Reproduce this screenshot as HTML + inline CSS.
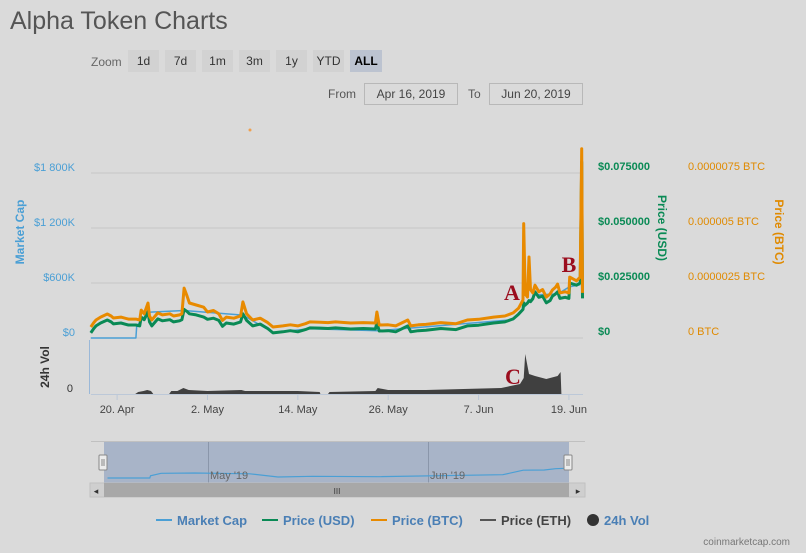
<!DOCTYPE html>
<html><head><meta charset="utf-8">
<style>
body{margin:0;background:#dadada;font-family:"Liberation Sans",sans-serif;}
#wrap{position:relative;width:806px;height:553px;overflow:hidden;background:#dadada;}
svg{position:absolute;left:0;top:0;}
</style></head><body>
<div id="wrap">
<svg id="svg" width="806" height="553" xmlns="http://www.w3.org/2000/svg">
<text x="10" y="29" font-size="25" fill="#555">Alpha Token Charts</text>
<text x="91" y="66" font-size="12" fill="#666">Zoom</text>
<g><rect x="128" y="50" width="31" height="22" fill="#d2d2d2"/><text x="143.5" y="65" font-size="12" fill="#333" text-anchor="middle">1d</text></g>
<g><rect x="165" y="50" width="31" height="22" fill="#d2d2d2"/><text x="180.5" y="65" font-size="12" fill="#333" text-anchor="middle">7d</text></g>
<g><rect x="202" y="50" width="31" height="22" fill="#d2d2d2"/><text x="217.5" y="65" font-size="12" fill="#333" text-anchor="middle">1m</text></g>
<g><rect x="239" y="50" width="31" height="22" fill="#d2d2d2"/><text x="254.5" y="65" font-size="12" fill="#333" text-anchor="middle">3m</text></g>
<g><rect x="276" y="50" width="31" height="22" fill="#d2d2d2"/><text x="291.5" y="65" font-size="12" fill="#333" text-anchor="middle">1y</text></g>
<g><rect x="313" y="50" width="31" height="22" fill="#d2d2d2"/><text x="328.5" y="65" font-size="12" fill="#333" text-anchor="middle">YTD</text></g>
<g><rect x="350" y="50" width="32" height="22" fill="#bcc3d0"/><text x="366" y="65" font-size="12" fill="#000" font-weight="bold" text-anchor="middle">ALL</text></g>
<text x="328" y="98" font-size="12" fill="#555">From</text>
<g><rect x="364.5" y="83.5" width="93" height="21" fill="#dadada" stroke="#b8b8b8"/><text x="411" y="98" font-size="12" fill="#444" text-anchor="middle">Apr 16, 2019</text></g>
<text x="468" y="98" font-size="12" fill="#555">To</text>
<g><rect x="489.5" y="83.5" width="93" height="21" fill="#dadada" stroke="#b8b8b8"/><text x="536" y="98" font-size="12" fill="#444" text-anchor="middle">Jun 20, 2019</text></g>
<g id="plot"></g>
</svg>
</div>
<script>
// ---- data (days since Apr 16, 2019) ----
const priceTimes = [0.5,0.9,1.2,1.8,2.7,3.2,3.5,4.5,5.5,6.5,7,7.2,7.6,8.1,8.3,8.6,9.4,10,11,11.5,12.3,12.6,12.9,13.3,13.6,14.5,15.5,16,16.8,17.5,18,18.5,19.5,20.4,20.7,21.2,22,23,24,24.7,26,27,28,29,29.6,31,32,33,35,36.7,38.3,38.5,38.8,40,41,42.6,43,44,45,47,49,50.5,52,54,55.5,56.6,57.3,57.9,58,58.2,58.5,58.7,58.9,59.2,59.5,60,60.5,61,61.5,61.8,62.2,62.5,62.8,63.5,64,64.1,65,65.5,65.7,65.8];
const priceBTC = [0.5,0.7,0.82,0.95,1.09,1.0,0.91,0.95,0.86,0.86,0.82,1.27,1.1,1.59,1.0,0.82,1.14,1.05,1.1,1.0,1.05,1.1,2.27,1.9,1.59,1.5,1.4,1.18,1.25,1.1,0.8,0.95,0.9,1.0,1.64,1.1,0.82,0.9,0.7,0.5,0.55,0.6,0.55,0.65,0.73,0.72,0.7,0.73,0.68,0.7,0.68,1.18,0.59,0.6,0.55,0.82,0.55,0.6,0.62,0.7,0.65,0.82,0.85,0.95,1.0,1.14,1.35,1.73,5.2,2.0,1.86,3.68,2.2,2.05,2.4,2.1,2.2,1.86,2.0,2.18,2.3,2.45,2.05,2.1,2.05,2.77,2.6,2.77,8.6,2.05]; // x 1e-6 BTC
const priceUSD = [2.3,4.3,5.5,6.8,8.2,7.3,6.4,6.8,5.9,5.9,5.5,9.5,8.3,12,7.3,5.5,8.7,7.8,8.3,7.3,7.8,8.3,13,12,11,10.5,9.5,8.5,9,8,5.3,6.8,6.3,7.3,11,8,5.5,6.3,4.3,2.3,2.8,3.3,2.8,3.8,4.6,4.5,4.3,4.6,4.1,4.3,4.1,7,3.2,3.3,2.8,5.5,2.8,3.3,3.5,4.3,3.8,5.5,5.8,6.8,7.3,8.7,10.8,13,16,15,15.9,17,16.5,17.8,21,18.5,19,16,17,19,20,21,18,18.5,18,25,24,25,80,18]; // x 1e-3 USD
const mcapTimes = [0.5,6.5,6.6,8.1,12.9,20.7,24.7,29.6,38.8,56.6,59.5,62.5,64.1,65.5];
const mcapK = [0,0,130,280,300,250,60,100,80,200,470,480,560,580];
const volTimes = [6.4,6.8,7.5,8,8.5,8.8,10.9,11.2,12,12.8,13.5,16,20.5,21,28,30.9,31,32,32.2,38.3,38.6,40,45,50,55,57.5,58,58.2,58.7,59.5,61,62.5,62.9,63];
const volVal = [0,2,3,4,3,0,0,3,3,6,4,3,4,3,3,2,0,0,2,3,6,4,4,5,6,10,16,40,20,18,15,18,22,0];
const xTickDays = [4,16,28,40,52,64];
const xTickLabels = ["20. Apr","2. May","14. May","26. May","7. Jun","19. Jun"];
const mcapTicks = [0,600,1200,1800];
const mcapTickLabels = ["$0","$600K","$1 200K","$1 800K"];
const usdTicks = [0,25,50,75];
const usdTickLabels = ["$0","$0.025000","$0.050000","$0.075000"];
const btcTicks = [0,2.5,5,7.5];
const btcTickLabels = ["0 BTC","0.0000025 BTC","0.000005 BTC","0.0000075 BTC"];

// ---- axes ----
const X0=87, DAY=7.53, Y0=338, PH=165;
const xS=d=>X0+d*DAY;
const yMcap=v=>Y0-v/1800*PH;
const yUSD=v=>Y0-v/75*PH;
const yBTC=v=>Y0-v/7.5*PH;
const yVol=v=>394-v*1.0;

const NS="http://www.w3.org/2000/svg";
const plot=document.getElementById('plot');
function mk(tag,attrs,parent){const e=document.createElementNS(NS,tag);for(const k in attrs)e.setAttribute(k,attrs[k]);(parent||plot).appendChild(e);return e;}
function txt(x,y,s,attrs){const e=mk('text',Object.assign({x:x,y:y,'font-size':11},attrs));e.textContent=s;return e;}

mcapTicks.forEach((v,i)=>{
  const g=mk('line',{x1:91,x2:583,y1:yMcap(v),y2:yMcap(v),stroke:'#c6c6c6','stroke-width':1});
  
  
  const t=txt(75,yMcap(v)-2,mcapTickLabels[i],{fill:'#4a9fd5','text-anchor':'end'});
  
  
});
usdTicks.forEach((v,i)=>{
  const t=txt(598,yUSD(v)-3,usdTickLabels[i],{fill:'#0a8a55','font-weight':'bold'});
  
  
});
btcTicks.forEach((v,i)=>{
  const t=txt(688,yBTC(v)-3,btcTickLabels[i],{fill:'#e08a00'});
  
  
});
let t;
t=txt(24,232,'Market Cap',{fill:'#4a9fd5','font-weight':'bold','font-size':12,'text-anchor':'middle',transform:'rotate(-90 24 232)'});

t=txt(658,228,'Price (USD)',{fill:'#0a8a55','font-weight':'bold','font-size':12,'text-anchor':'middle',transform:'rotate(90 658 228)'});

t=txt(775,232,'Price (BTC)',{fill:'#e08a00','font-weight':'bold','font-size':12,'text-anchor':'middle',transform:'rotate(90 775 232)'});

t=txt(49,367,'24h Vol',{fill:'#333','font-weight':'bold','font-size':12,'text-anchor':'middle',transform:'rotate(-90 49 367)'});

t=txt(73,392,'0',{fill:'#333','text-anchor':'end'});


mk('line',{x1:89.5,x2:89.5,y1:340,y2:394,stroke:'#9ab8d8'});
mk('line',{x1:91,x2:583,y1:394.5,y2:394.5,stroke:'#bcc8d8'});
xTickDays.forEach((d,i)=>{
  mk('line',{x1:xS(d),x2:xS(d),y1:395,y2:400,stroke:'#bcc8d8'});
  const l=txt(xS(d),413,xTickLabels[i],{fill:'#444','text-anchor':'middle'});
  
  
});

let vp='M'+xS(volTimes[0])+' 394 ';
volTimes.forEach((d,i)=>{vp+='L'+xS(d).toFixed(1)+' '+yVol(volVal[i]).toFixed(1)+' ';});
vp+='L'+xS(volTimes[volTimes.length-1])+' 394 Z';
const va=mk('path',{d:vp,fill:'#404040'});



function line(times,vals,sc,color,w,name){
  let d='';times.forEach((tt,i)=>{d+=(i?'L':'M')+xS(tt).toFixed(1)+' '+sc(vals[i]).toFixed(1)+' ';});
  const p=mk('path',{d:d,fill:'none',stroke:color,'stroke-width':w,'stroke-linejoin':'round'});
  
  
}
line(mcapTimes,mcapK,yMcap,'#4a9fd5',1.5,'market-cap-line');
line(priceTimes,priceUSD,yUSD,'#0a8a55',3,'price-usd-line');
line(priceTimes,priceBTC,yBTC,'#e88a00',3,'price-btc-line');
mk('circle',{cx:250,cy:130,r:1.5,fill:'#f0a050'});

[['A',512,300],['B',569,272],['C',513,384]].forEach(a=>{
  const e=txt(a[1],a[2],a[0],{fill:'#9b0d1e','font-size':22,'font-weight':'bold','font-family':'Liberation Serif, serif','text-anchor':'middle'});
  
  
});

const nav=mk('g',{});


mk('line',{x1:91,x2:585,y1:441.5,y2:441.5,stroke:'#c0c0c0'},nav);
mk('rect',{x:104,y:442,width:465,height:41,fill:'#a8b4c8'},nav);
mk('line',{x1:208.5,x2:208.5,y1:442,y2:483,stroke:'#8a96aa'},nav);
mk('line',{x1:428.5,x2:428.5,y1:442,y2:483,stroke:'#8a96aa'},nav);
let np='';mcapTimes.forEach((tt,i)=>{np+=(i?'L':'M')+(104+(tt/66)*465).toFixed(1)+' '+(478-mcapK[i]/60).toFixed(1)+' ';});
mk('path',{d:np,fill:'none',stroke:'#4a9fd5','stroke-width':1.2},nav);
txt(210,479,"May '19",{fill:'#666'});
txt(430,479,"Jun '19",{fill:'#666'});
[103,568].forEach(x=>{mk('rect',{x:x-4,y:455,width:8,height:15,fill:'#ececec',stroke:'#888',rx:1},nav);mk('line',{x1:x-1,x2:x-1,y1:459,y2:466,stroke:'#888'},nav);mk('line',{x1:x+1,x2:x+1,y1:459,y2:466,stroke:'#888'},nav);});
mk('rect',{x:90,y:483,width:495,height:14,fill:'#cfcfcf',stroke:'#c0c0c0'},nav);
mk('rect',{x:104,y:483,width:465,height:14,fill:'#a8a8a8'},nav);
txt(96,494,'◂',{fill:'#333','font-size':9,'text-anchor':'middle'});
txt(578,494,'▸',{fill:'#333','font-size':9,'text-anchor':'middle'});
txt(337,494,'III',{fill:'#333','font-size':8,'text-anchor':'middle'});

const leg=[['Market Cap','#4a9fd5','#4a7fb5',156],['Price (USD)','#0a8a55','#4a7fb5',262],['Price (BTC)','#e88a00','#4a7fb5',371],['Price (ETH)','#555','#444',480]];
leg.forEach(l=>{
  const g=mk('g',{});
  
  
  mk('line',{x1:l[3],x2:l[3]+16,y1:520,y2:520,stroke:l[1],'stroke-width':2},g);
  const e=document.createElementNS(NS,'text');e.setAttribute('x',l[3]+21);e.setAttribute('y',525);e.setAttribute('font-size',13);e.setAttribute('fill',l[2]);e.setAttribute('font-weight','bold');e.textContent=l[0];g.appendChild(e);
});
const gv=mk('g',{});


mk('circle',{cx:593,cy:520,r:6,fill:'#333'},gv);
const ev=document.createElementNS(NS,'text');ev.setAttribute('x',604);ev.setAttribute('y',525);ev.setAttribute('font-size',13);ev.setAttribute('fill','#4a7fb5');ev.setAttribute('font-weight','bold');ev.textContent='24h Vol';gv.appendChild(ev);
const cr=txt(790,545,'coinmarketcap.com',{fill:'#777','font-size':10,'text-anchor':'end'});


</script>
</body></html>
